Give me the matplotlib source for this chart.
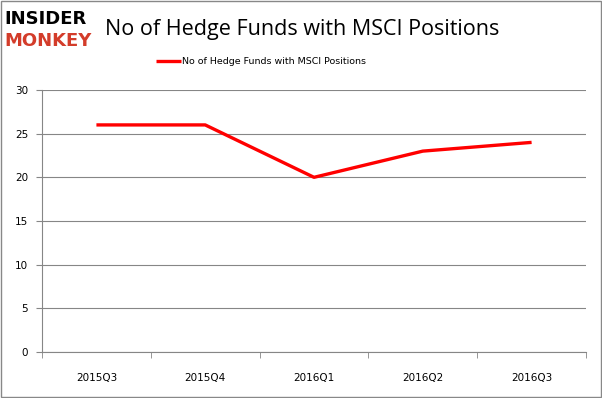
import matplotlib.pyplot as plt
from matplotlib.patches import Rectangle

# 數據
quarters = ['2015Q3', '2015Q4', '2016Q1', '2016Q2', '2016Q3']
funds = [26, 26, 20, 23, 24]
y_ticks = [0, 5, 10, 15, 20, 25, 30]
series_name = 'No of Hedge Funds with MSCI Positions'

fig = plt.figure(figsize=(6.02, 3.98), dpi=100)
ax = fig.add_axes([0.0698, 0.1156, 0.9036, 0.6583])

grid_c = '#868686'
x = list(range(len(quarters)))
ax.plot(x, funds, color='#ff0000', lw=2.4, solid_capstyle='butt', label=series_name)

ax.set_xlim(-0.5, len(quarters) - 0.5)
ax.set_ylim(0, 30)
ax.set_yticks(y_ticks)
ax.set_xticks(x)
ax.set_xticklabels(quarters)
ax.grid(axis='y', color=grid_c, lw=0.8)
ax.set_axisbelow(True)

for s in ['top', 'right']:
    ax.spines[s].set_visible(False)
for s in ['left', 'bottom']:
    ax.spines[s].set_color(grid_c)
    ax.spines[s].set_linewidth(0.8)

# X 軸刻度在類別之間
ax.tick_params(axis='x', length=0, pad=15, labelsize=7.5)
ax.set_xticks([i - 0.5 for i in range(len(quarters) + 1)], minor=True)
ax.tick_params(axis='x', which='minor', length=4, color=grid_c, direction='out')
ax.tick_params(axis='y', length=4, color=grid_c, labelsize=7.5, pad=6)

# 標題和圖標
fig.text(0.175, 0.925, 'No of Hedge Funds with MSCI Positions', fontsize=15.5,
         family='Open Sans', va='center', ha='left')
fig.text(0.008, 0.952, 'INSIDER', fontsize=13, fontweight='heavy', color='black',
         family='DejaVu Sans', va='center', ha='left')
fig.text(0.008, 0.897, 'MONKEY', fontsize=13, fontweight='heavy', color='#d33c2a',
         family='DejaVu Sans', va='center', ha='left')

leg = ax.legend(loc='center', bbox_to_anchor=(0.403, 1.107), frameon=False,
                fontsize=6.8, handlelength=2.6, handletextpad=0.1)

# 外框
fig.patches.append(Rectangle((0.001, 0.002), 0.997, 0.995, transform=fig.transFigure,
                             fill=False, edgecolor='#888888', lw=1))

fig.savefig('out.png', dpi=100)
